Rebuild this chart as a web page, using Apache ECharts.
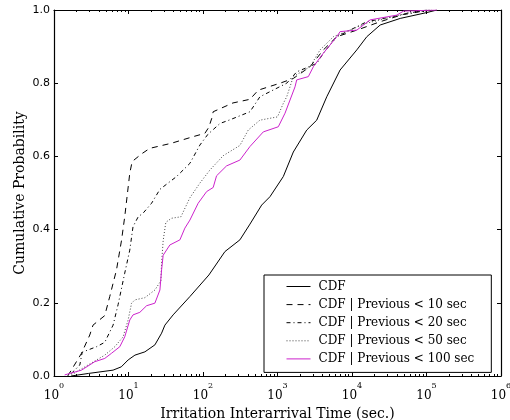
<!DOCTYPE html>
<html>
<head>
<meta charset="utf-8">
<script src="https://cdn.jsdelivr.net/npm/echarts@6/dist/echarts.min.js"></script>
<style>html,body{margin:0;padding:0;background:#fff;}#c{width:510px;height:420px;}</style>
</head>
<body>
<div id="c"></div>
<script>
// Series names
const seriesNames = ['CDF', 'CDF | Previous < 10 sec', 'CDF | Previous < 20 sec', 'CDF | Previous < 50 sec', 'CDF | Previous < 100 sec'];

// CDF (all)
const cdfT = [1.7, 2.9, 6.2, 8.0, 9.9, 12.2, 16.6, 22.6, 27.8, 30.8, 39.7, 66.7, 120, 197, 313, 427, 613, 793, 1197, 1631, 2468, 3362, 4585, 6918, 11600, 15800, 23900, 44400, 101000, 138000];
const cdfP = [0, 0.007, 0.016, 0.025, 0.044, 0.057, 0.066, 0.085, 0.117, 0.139, 0.167, 0.217, 0.276, 0.340, 0.372, 0.415, 0.467, 0.490, 0.545, 0.612, 0.672, 0.699, 0.763, 0.836, 0.891, 0.927, 0.959, 0.977, 0.993, 1.0];

// CDF | Previous < 10 sec
const p10T = [1.53, 2.34, 3.02, 3.34, 4.8, 5.6, 6.9, 8.05, 8.9, 10.4, 11.2, 15.0, 19.3, 37.8, 73.9, 106, 120, 131, 137, 252, 427, 552, 1081, 1631, 2735, 4128, 6250, 11600, 23900, 54500, 101000];
const p10P = [0, 0.062, 0.112, 0.139, 0.165, 0.217, 0.290, 0.370, 0.435, 0.554, 0.586, 0.607, 0.622, 0.636, 0.654, 0.663, 0.680, 0.704, 0.722, 0.746, 0.756, 0.781, 0.800, 0.813, 0.845, 0.891, 0.927, 0.945, 0.968, 0.991, 1.0];

// CDF | Previous < 20 sec
const p20T = [1.71, 2.22, 2.39, 3.72, 4.8, 6.21, 7.25, 8.9, 10.4, 11.5, 13.5, 15.7, 20.4, 26.4, 44.2, 66.7, 90.8, 116, 169, 230, 427, 581, 1330, 1811, 3362, 4128, 6250, 15800, 44400, 112000];
const p20P = [0.007, 0.03, 0.065, 0.08, 0.092, 0.139, 0.195, 0.281, 0.344, 0.408, 0.435, 0.445, 0.472, 0.510, 0.545, 0.581, 0.631, 0.660, 0.690, 0.700, 0.722, 0.763, 0.800, 0.831, 0.854, 0.882, 0.927, 0.968, 0.986, 1.0];

// CDF | Previous < 50 sec
const p50T = [1.71, 2.86, 4.8, 6.55, 8.46, 9.88, 11.0, 12.2, 16.6, 22.6, 27.2, 27.8, 29.2, 31.7, 37.8, 50.5, 66.7, 90.8, 124, 187, 313, 405, 581, 1000, 1197, 1330, 1631, 2735, 3724, 5623, 15800, 54500, 124000];
const p50P = [0.003, 0.03, 0.057, 0.08, 0.107, 0.153, 0.199, 0.208, 0.214, 0.235, 0.26, 0.308, 0.37, 0.42, 0.431, 0.435, 0.487, 0.527, 0.563, 0.602, 0.630, 0.672, 0.699, 0.708, 0.745, 0.763, 0.818, 0.845, 0.891, 0.927, 0.964, 0.991, 1.0];

// CDF | Previous < 100 sec
const p100T = [1.39, 2.34, 3.52, 4.8, 5.91, 7.64, 8.9, 10.4, 11.5, 14.2, 17.5, 22.6, 26.4, 27.8, 29.2, 35.9, 49.0, 57.1, 66.7, 86.1, 112, 137, 152, 207, 313, 427, 645, 1025, 1261, 1472, 1718, 1811, 2594, 3030, 4128, 6250, 6918, 11600, 17500, 40000, 49100, 138000];
const p100P = [0.003, 0.016, 0.039, 0.048, 0.062, 0.08, 0.107, 0.153, 0.167, 0.174, 0.192, 0.199, 0.235, 0.29, 0.33, 0.358, 0.372, 0.404, 0.426, 0.472, 0.504, 0.515, 0.547, 0.574, 0.590, 0.627, 0.667, 0.681, 0.718, 0.754, 0.790, 0.809, 0.818, 0.845, 0.882, 0.927, 0.941, 0.945, 0.973, 0.986, 0.997, 1.0];

// Axis tick values
const xMajorTicks = [1, 10, 100, 1000, 10000, 100000, 1000000];
const yTicks = [0, 0.2, 0.4, 0.6, 0.8, 1.0];

const xMinorTicks = [];
for (let d = 0; d < 6; d++) {
  for (let k = 2; k <= 9; k++) xMinorTicks.push(k * Math.pow(10, d));
}

const zip = (t, p) => t.map((v, i) => [v, p[i]]);

const serif = 'DejaVu Serif';
const sans = 'DejaVu Sans';

const chart = echarts.init(document.getElementById('c'), null, {renderer: 'canvas'});

const baseX = {
  type: 'log', logBase: 10, min: 1, max: 1000000,
  splitLine: {show: false}, minorSplitLine: {show: false}
};

const option = {
  animation: false,
  backgroundColor: '#fff',
  grid: {left: 54, right: 9, top: 10, bottom: 44, containLabel: false, outerBoundsMode: 'none'},
  xAxis: [
    Object.assign({}, baseX, {
      position: 'bottom', gridIndex: 0,
      axisLine: {show: true, lineStyle: {color: '#000', width: 1.2}},
      axisTick: {show: true, inside: true, length: 4, lineStyle: {color: '#000'}, customValues: xMajorTicks},
      axisLabel: {
        show: true, margin: 6, customValues: xMajorTicks,
        formatter: v => '{b|10}{s|' + Math.round(Math.log10(v)) + '}',
        rich: {
          b: {fontFamily: serif, fontSize: 12, color: '#000', verticalAlign: 'bottom', lineHeight: 20},
          s: {fontFamily: serif, fontSize: 8, color: '#000', verticalAlign: 'top', lineHeight: 20}
        }
      },
      name: 'Irritation Interarrival Time (sec.)',
      nameLocation: 'middle', nameGap: 28,
      nameTextStyle: {fontFamily: serif, fontSize: 14, color: '#000'}
    }),
    Object.assign({}, baseX, {
      position: 'bottom', gridIndex: 0,
      axisLine: {show: false},
      axisTick: {show: true, inside: true, length: 2, lineStyle: {color: '#000'}, customValues: xMinorTicks},
      axisLabel: {show: false}
    }),
    Object.assign({}, baseX, {
      position: 'top', gridIndex: 0,
      axisLine: {show: true, lineStyle: {color: '#000', width: 1.2}},
      axisTick: {show: true, inside: true, length: 4, lineStyle: {color: '#000'}, customValues: xMajorTicks},
      axisLabel: {show: false}
    }),
    Object.assign({}, baseX, {
      position: 'top', gridIndex: 0,
      axisLine: {show: false},
      axisTick: {show: true, inside: true, length: 2, lineStyle: {color: '#000'}, customValues: xMinorTicks},
      axisLabel: {show: false}
    })
  ],
  yAxis: [
    {
      type: 'value', min: 0, max: 1, interval: 0.2, position: 'left',
      splitLine: {show: false},
      axisLine: {show: true, lineStyle: {color: '#000', width: 1.2}},
      axisTick: {show: true, inside: true, length: 4, lineStyle: {color: '#000'}},
      axisLabel: {show: true, margin: 4, fontFamily: sans, fontSize: 11, color: '#000', formatter: v => v.toFixed(1)},
      name: 'Cumulative Probability',
      nameLocation: 'middle', nameGap: 27, nameMoveOverlap: false,
      nameTextStyle: {fontFamily: serif, fontSize: 14, color: '#000'}
    },
    {
      type: 'value', min: 0, max: 1, interval: 0.2, position: 'right',
      splitLine: {show: false},
      axisLine: {show: true, lineStyle: {color: '#000', width: 1.2}},
      axisTick: {show: true, inside: true, length: 4, lineStyle: {color: '#000'}},
      axisLabel: {show: false}
    }
  ],
  legend: {
    orient: 'vertical', left: 264, top: 275,
    padding: [4, 17, 6, 22],
    itemWidth: 24, itemHeight: 14, itemGap: 3.1,
    borderColor: '#000', borderWidth: 1, backgroundColor: '#fff',
    itemStyle: {opacity: 0},
    lineStyle: {width: 1},
    textStyle: {fontFamily: serif, fontSize: 12, color: '#000', padding: [0, 0, 0, 3], lineHeight: 15},
    data: seriesNames
  },
  series: [
    {name: seriesNames[0], data: zip(cdfT, cdfP), color: '#000', lineStyle: {color: '#000', width: 1, type: 'solid'}},
    {name: seriesNames[1], data: zip(p10T, p10P), color: '#000', lineStyle: {color: '#000', width: 1, type: [6, 5]}},
    {name: seriesNames[2], data: zip(p20T, p20P), color: '#000', lineStyle: {color: '#000', width: 1, type: [4, 3, 1, 3]}},
    {name: seriesNames[3], data: zip(p50T, p50P), color: '#444', lineStyle: {color: '#444', width: 1, type: [1, 2]}},
    {name: seriesNames[4], data: zip(p100T, p100P), color: '#cc22cc', lineStyle: {color: '#cc22cc', width: 1, type: 'solid'}}
  ].map(s => Object.assign({type: 'line', xAxisIndex: 0, yAxisIndex: 0, symbol: 'none', showSymbol: false, smooth: false, silent: true}, s))
};

chart.setOption(option);
</script>
</body>
</html>
